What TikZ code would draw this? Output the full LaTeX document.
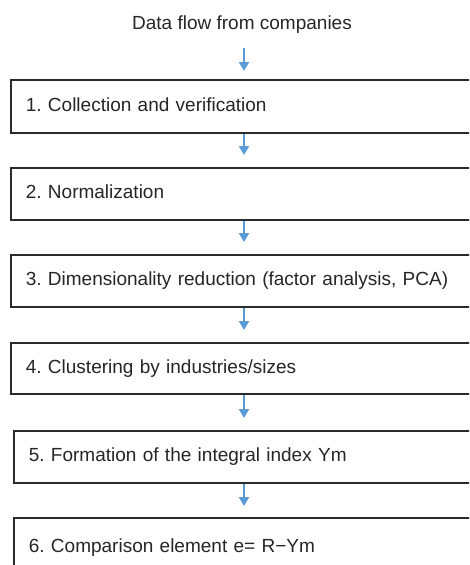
\documentclass[tikz,border=0pt]{standalone}
\usepackage{fontspec}
\setmainfont{Liberation Sans}
\usetikzlibrary{arrows.meta}
\definecolor{flowblue}{HTML}{5B9BD5}
\definecolor{boxline}{HTML}{2B2B2B}
\definecolor{txt}{HTML}{262626}
\frenchspacing
\begin{document}
\begin{tikzpicture}[x=1pt,y=-1pt,
  stepbox/.style={draw=boxline, line width=1.6pt, rectangle, anchor=north west,
    inner xsep=15pt, inner ysep=0pt, text width=440pt, align=left,
    text height=14pt, text depth=4pt, font=\fontsize{19}{22}\selectfont, text=txt},
  flow/.style={draw=flowblue, line width=2pt, -{Triangle[width=10pt,length=9pt]}}]
\useasboundingbox (0,0) rectangle (469,565);
\clip (0,0) rectangle (469,565);
\fill[white] (0,0) rectangle (469,565);
\node[font=\fontsize{19}{22}\selectfont, text=txt, inner sep=0pt, text height=14pt, text depth=4pt] (t) at (242,24) {Data flow from companies};
\coordinate (ax) at (244,0);
\node[stepbox, minimum height=53pt] (b1) at (10,79) {1. Collection and verification};
\node[stepbox, minimum height=52pt] (b2) at (10,167) {2. Normalization};
\node[stepbox, minimum height=52pt] (b3) at (10,254) {3. Dimensionality reduction (factor analysis, PCA)};
\node[stepbox, minimum height=51pt] (b4) at (10,342) {4. Clustering by industries/sizes};
\node[stepbox, minimum height=52pt] (b5) at (13,430) {5. Formation of the integral index Ym};
\node[stepbox, minimum height=60pt] (b6) at (13,517) {6. Comparison element e= R−Ym};
\draw[flow] ([yshift=-15pt]t.south -| ax) -- ([yshift=8pt]b1.north -| ax);
\draw[flow] (b1.south -| ax) -- ([yshift=12pt]b2.north -| ax);
\draw[flow] (b2.south -| ax) -- ([yshift=12pt]b3.north -| ax);
\draw[flow] (b3.south -| ax) -- ([yshift=12pt]b4.north -| ax);
\draw[flow] (b4.south -| ax) -- ([yshift=12pt]b5.north -| ax);
\draw[flow] (b5.south -| ax) -- ([yshift=11pt]b6.north -| ax);
\end{tikzpicture}
\end{document}
